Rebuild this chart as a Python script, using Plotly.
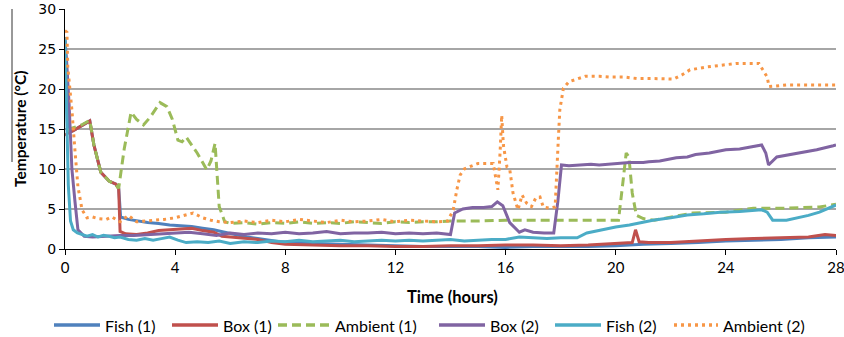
import plotly.graph_objects as go

# ---------------- data ----------------
fish1_t = [0, 0.04, 0.1, 0.3, 0.6, 0.9, 1.05, 1.3, 1.6, 1.85, 1.95, 2.02, 2.3, 2.6, 3.0, 3.4, 3.8, 4.2, 4.6, 5.0, 5.4,
           5.8, 6.2, 6.6, 7.0, 7.4, 7.8, 8.5, 9, 10, 11, 12, 13, 14, 15, 16, 17, 18, 19, 20, 21, 22, 23, 24, 25, 26, 27, 28]
fish1_v = [26.5, 20.0, 14.5, 14.8, 15.4, 16.0, 13.0, 9.6, 8.5, 8.1, 7.6, 4.0, 3.7, 3.5, 3.3, 3.2, 3.0, 2.9, 2.8, 2.6, 2.4,
           2.1, 1.8, 1.5, 1.3, 1.1, 0.9, 0.8, 0.7, 0.6, 0.5, 0.4, 0.3, 0.3, 0.3, 0.2, 0.3, 0.3, 0.3, 0.4, 0.6, 0.7, 0.8, 1.0, 1.1, 1.2, 1.4, 1.5]

box1_t = [0, 0.1, 0.3, 0.6, 0.9, 1.05, 1.3, 1.6, 1.85, 1.95, 2.0, 2.2, 2.6, 3.0, 3.4, 3.8, 4.2, 4.6, 5.0, 5.4, 5.7, 6.0,
          6.5, 7.0, 7.5, 8, 9, 10, 11, 12, 13, 14, 15, 16, 17, 18, 19, 20, 20.6, 20.72, 20.85, 21.2, 22, 23, 24, 25, 26, 27, 27.6, 28]
box1_v = [14.2, 14.5, 14.8, 15.4, 16.0, 13.0, 9.6, 8.5, 8.1, 7.5, 2.2, 1.9, 1.8, 2.0, 2.3, 2.4, 2.5, 2.6, 2.3, 2.1, 1.6, 1.5,
          1.4, 1.2, 0.8, 0.6, 0.5, 0.4, 0.4, 0.3, 0.3, 0.4, 0.4, 0.5, 0.5, 0.4, 0.5, 0.7, 0.8, 2.4, 0.9, 0.8, 0.8, 1.0, 1.2, 1.3, 1.4, 1.5, 1.8, 1.7]

amb1_t = [0.1, 0.25, 0.6, 0.9, 1.05, 1.3, 1.6, 1.85, 1.95, 2.15, 2.4, 2.6, 2.85, 3.1, 3.45, 3.7, 3.9, 4.1, 4.25, 4.4, 4.8,
          5.15, 5.3, 5.45, 5.6, 5.8, 6.0, 6.5, 7, 7.5, 8, 8.5, 9, 9.5, 10, 10.5, 11, 11.5, 12, 12.5, 13, 13.5, 14, 15, 16,
          17, 18, 19, 20.1, 20.25, 20.38, 20.48, 20.6, 20.75, 21, 21.4, 22, 22.8, 24, 25, 26.2, 27.4, 28]
amb1_v = [14.8, 15.1, 15.5, 16.1, 13.0, 9.6, 8.5, 8.0, 7.6, 12.5, 17.1, 16.2, 15.5, 16.5, 18.3, 17.8, 16.2, 13.6, 13.4, 14.0, 12.0,
          9.9, 11.0, 13.2, 5.3, 3.4, 3.2, 3.3, 3.1, 3.3, 3.2, 3.4, 3.2, 3.3, 3.2, 3.4, 3.3, 3.2, 3.4, 3.3, 3.4, 3.4, 3.5, 3.5, 3.6,
          3.6, 3.6, 3.6, 3.6, 8.0, 12.0, 11.5, 7.0, 4.2, 3.8, 3.6, 4.0, 4.5, 4.6, 5.1, 5.1, 5.25, 5.6]

box2_t = [0, 0.05, 0.15, 0.25, 0.36, 0.47, 0.7, 1, 1.5, 2, 2.5, 3, 3.5, 4, 4.5, 5, 5.5, 6, 6.5, 7, 7.5, 8, 8.5, 9, 9.5,
          10, 10.5, 11, 11.5, 12, 12.5, 13, 13.5, 14.0, 14.15, 14.45, 14.8, 15.2, 15.5, 15.7, 15.9, 16.15, 16.5, 16.7,
          17, 17.4, 17.75, 17.9, 18.03, 18.3, 18.7, 19.1, 19.4, 20, 20.5, 21, 21.2, 21.6, 22.2, 22.6, 22.9, 23.4, 24,
          24.5, 25.0, 25.3, 25.45, 25.55, 25.85, 26.3, 26.8, 27.3, 27.9, 28]
box2_v = [26.0, 24.0, 18.0, 10.0, 6.0, 2.4, 1.6, 1.5, 1.6, 1.7, 1.7, 1.8, 1.9, 2.0, 2.1, 1.9, 1.7, 2.0, 1.8, 2.0, 1.9, 2.1, 1.9,
          2.0, 2.2, 1.9, 2.0, 2.0, 2.1, 1.9, 2.0, 1.9, 2.0, 1.8, 4.5, 5.0, 5.2, 5.2, 5.3, 5.9, 5.4, 3.3, 2.1, 2.4, 2.1, 2.0,
          2.0, 6.0, 10.5, 10.4, 10.5, 10.6, 10.5, 10.7, 10.8, 10.8, 10.9, 11.0, 11.4, 11.5, 11.8, 12.0, 12.4, 12.5, 12.8,
          13.0, 12.0, 10.5, 11.5, 11.8, 12.1, 12.4, 12.9, 13.0]

fish2_t = [0, 0.05, 0.12, 0.2, 0.3, 0.45, 0.6, 0.8, 1.0, 1.2, 1.4, 1.6, 1.8, 2.0, 2.3, 2.6, 2.9, 3.2, 3.5, 3.8, 4.1, 4.4,
           4.8, 5.2, 5.6, 6.0, 6.5, 7.0, 7.5, 8.0, 8.5, 9.0, 9.5, 10, 10.5, 11, 11.5, 12, 12.5, 13, 13.5, 14, 14.5, 15,
           15.5, 16, 16.5, 17, 17.5, 18, 18.6, 18.95, 19.5, 20, 20.5, 21, 21.35, 22, 22.6, 23.2, 23.8, 24.5, 25.3, 25.5,
           25.7, 26.2, 26.6, 27.0, 27.4, 27.7, 28]
fish2_v = [26.5, 18.0, 8.0, 3.5, 2.4, 2.0, 1.8, 1.6, 1.8, 1.5, 1.7, 1.6, 1.4, 1.5, 1.2, 1.1, 1.3, 1.1, 1.3, 1.5, 1.1, 0.8,
           0.9, 0.8, 1.0, 0.7, 0.9, 0.8, 1.0, 0.9, 1.1, 0.9, 1.0, 1.1, 0.9, 1.0, 1.1, 1.0, 1.1, 1.0, 1.1, 1.2, 1.0, 1.1,
           1.2, 1.2, 1.5, 1.4, 1.3, 1.4, 1.4, 2.0, 2.4, 2.75, 3.0, 3.4, 3.6, 3.9, 4.25, 4.4, 4.6, 4.7, 4.9, 4.6, 3.6, 3.6,
           3.9, 4.2, 4.6, 5.0, 5.5]

amb2_t = [0, 0.07, 0.1, 0.25, 0.36, 0.47, 0.62, 0.8, 1.0, 1.2, 1.5, 1.7, 2.0, 2.3, 2.6, 3.0, 3.3, 3.6, 4.0, 4.3, 4.65,
          5.0, 5.3, 5.6, 6, 6.5, 7, 7.5, 8, 8.5, 9, 9.5, 10, 10.5, 11, 11.5, 12, 12.5, 13, 13.5, 13.9, 14.1, 14.23,
          14.35, 14.5, 15.0, 15.55, 15.65, 15.72, 15.8, 15.86, 15.92, 16.05, 16.15, 16.27, 16.45, 16.6, 16.76, 16.94,
          17.1, 17.25, 17.37, 17.6, 17.8, 17.85, 17.92, 17.97, 18.1, 18.3, 18.9, 19.4, 19.8, 20.3, 20.8, 21.4, 22.1,
          22.4, 22.7, 23.3, 23.95, 24.4, 25.2, 25.4, 25.5, 25.57, 26.2, 27, 28]
amb2_v = [27.3, 27.1, 22.8, 17.4, 12.4, 7.8, 4.9, 3.9, 4.0, 3.8, 3.7, 4.0, 3.4, 4.2, 3.4, 3.5, 3.6, 3.7, 3.9, 4.2, 4.5,
          3.9, 3.6, 3.4, 3.3, 3.5, 3.3, 3.6, 3.4, 3.7, 3.5, 3.3, 3.6, 3.4, 3.5, 3.7, 3.4, 3.6, 3.5, 3.4, 3.5, 4.9, 7.4,
          9.25, 10.0, 10.7, 10.7, 9.0, 7.4, 12.0, 16.7, 13.0, 10.25, 10.0, 7.0, 4.9, 6.75, 5.75, 5.3, 6.4, 6.5, 5.25,
          5.1, 5.25, 9.9, 14.0, 17.4, 20.1, 20.9, 21.6, 21.6, 21.5, 21.5, 21.3, 21.3, 21.25, 21.75, 22.4, 22.75, 23.0,
          23.2, 23.2, 22.1, 21.5, 20.3, 20.5, 20.5, 20.5]

x_ticks = [0, 4, 8, 12, 16, 20, 24, 28]
y_ticks = [0, 5, 10, 15, 20, 25, 30]

series_names = ["Fish (1)", "Box (1)", "Ambient (1)", "Box (2)", "Fish (2)", "Ambient (2)"]
series_t = [fish1_t, box1_t, amb1_t, box2_t, fish2_t, amb2_t]
series_v = [fish1_v, box1_v, amb1_v, box2_v, fish2_v, amb2_v]
series_colors = ["#4F81BD", "#C0504D", "#9BBB59", "#8064A2", "#4BACC6", "#F79646"]
series_dash = ["solid", "solid", "9px,5px", "solid", "solid", "3px,4px"]

# legend layout (pixel positions of sample line start/end)
W, H = 844, 337
ML, MR, MT, MB = 65, 8, 9, 88
PW, PH = W - ML - MR, H - MT - MB
leg_line_px = [(54, 100), (172, 218), (278, 330), (439, 485), (555, 601), (674, 718)]
leg_y_px = 325


def px_x(p):
    return (p - ML) / PW


def px_y(p):
    return (H - MB - p) / PH


narrow = "Lato, Arial, sans-serif"

fig = go.Figure()
for name, t, v, col, dash in zip(series_names, series_t, series_v, series_colors, series_dash):
    fig.add_trace(go.Scatter(x=t, y=v, mode="lines", name=name, showlegend=False,
                             line=dict(color=col, width=3, dash=dash)))

annotations = [
    dict(text="<b>Time (hours)</b>", xref="paper", yref="paper", x=px_x(452), y=px_y(297),
         xanchor="center", yanchor="middle", showarrow=False,
         font=dict(family=narrow, size=16.5, color="#000")),
    dict(text="<b>Temperature (°C)</b>", xref="paper", yref="paper", x=px_x(20), y=px_y(129),
         xanchor="center", yanchor="middle", showarrow=False, textangle=-90,
         font=dict(family=narrow, size=15.5, color="#000")),
]
shapes = [dict(type="line", xref="paper", yref="paper", x0=px_x(12), x1=px_x(12), y0=px_y(9), y1=px_y(162),
               line=dict(color="#333", width=1))]

for name, col, dash, (a, b) in zip(series_names, series_colors, series_dash, leg_line_px):
    shapes.append(dict(type="line", xref="paper", yref="paper", x0=px_x(a), x1=px_x(b),
                       y0=px_y(leg_y_px), y1=px_y(leg_y_px), line=dict(color=col, width=3.5, dash=dash)))
    annotations.append(dict(text=name, xref="paper", yref="paper", x=px_x(b + 3), y=px_y(leg_y_px),
                            xanchor="left", yanchor="middle", showarrow=False,
                            font=dict(family=narrow, size=16, color="#000")))

fig.update_layout(
    width=W, height=H,
    margin=dict(l=ML, r=MR, t=MT, b=MB, autoexpand=False),
    paper_bgcolor="white", plot_bgcolor="white",
    showlegend=False,
    xaxis=dict(range=[0, 28], tickvals=x_ticks, ticks="outside", ticklen=5, tickcolor="#000",
               showline=True, linecolor="#000", linewidth=1, showgrid=False, zeroline=False,
               ticklabeloverflow="allow", automargin=False,
               tickfont=dict(family=narrow, size=15, color="#000")),
    yaxis=dict(range=[0, 30], tickvals=y_ticks, ticks="outside", ticklen=5, tickcolor="#000",
               showline=True, linecolor="#000", linewidth=1, showgrid=True, gridcolor="#A6A6A6",
               gridwidth=1.5, zeroline=False, automargin=False,
               tickfont=dict(family="DejaVu Sans, Verdana, sans-serif", size=14, color="#000")),
    annotations=annotations,
    shapes=shapes,
)

fig.write_html("out.html")
